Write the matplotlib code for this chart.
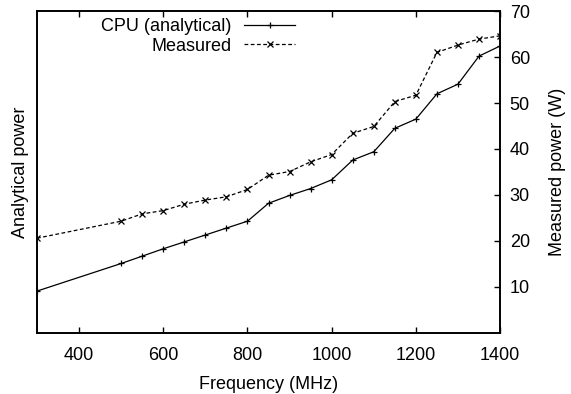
import matplotlib
matplotlib.use('Agg')
import matplotlib.pyplot as plt

plt.rcParams['font.family'] = ['Liberation Sans', 'DejaVu Sans']
plt.rcParams['font.size'] = 13

freq = [300, 500, 550, 600, 650, 700, 750, 800, 850, 900, 950, 1000,
        1050, 1100, 1150, 1200, 1250, 1300, 1350, 1400]
analytical = [9.1, 15.1, 16.7, 18.3, 19.8, 21.3, 22.8, 24.3, 28.2, 29.9, 31.4, 33.3,
              37.6, 39.4, 44.5, 46.5, 52.0, 54.1, 60.2, 62.4]
measured = [20.6, 24.3, 25.9, 26.6, 28.0, 28.9, 29.6, 31.2, 34.3, 35.1, 37.2, 38.8,
            43.4, 44.9, 50.3, 51.7, 61.0, 62.6, 63.9, 64.6]
xticks = [400, 600, 800, 1000, 1200, 1400]
yticks_right = [10, 20, 30, 40, 50, 60, 70]

fig = plt.figure(figsize=(5.71, 3.94), dpi=100)
ax = fig.add_axes([0.0648, 0.155, 0.811, 0.817])
ax2 = ax.twinx()

l1, = ax.plot(freq, analytical, color='black', lw=0.9, marker='+', ms=5, mew=0.9,
              label='CPU (analytical)')
l2, = ax2.plot(freq, measured, color='black', lw=0.9, ls=(0, (3, 2)), marker='x', ms=4,
               mew=0.9, label='Measured')

for a in (ax, ax2):
    a.set_xlim(300, 1400)
    a.set_ylim(0, 70)
    for s in a.spines.values():
        s.set_linewidth(1.2)

ax.set_xticks(xticks)
ax.tick_params(axis='x', direction='in', top=True, length=4, width=1, pad=10)
ax.set_yticks([])
ax2.set_yticks(yticks_right)
ax2.tick_params(axis='y', direction='in', length=4, width=1, pad=7)

ax.set_xlabel('Frequency (MHz)', labelpad=9)
ax.set_ylabel('Analytical power', labelpad=6)
ax2.set_ylabel('Measured power (W)', labelpad=14)

ax.legend(handles=[l1, l2], loc='upper right', bbox_to_anchor=(0.557, 0.977),
          frameon=False, markerfirst=False, handlelength=2.8, handletextpad=0.7,
          labelspacing=0.12, borderaxespad=0, borderpad=0)

fig.savefig('out.png', dpi=100)
